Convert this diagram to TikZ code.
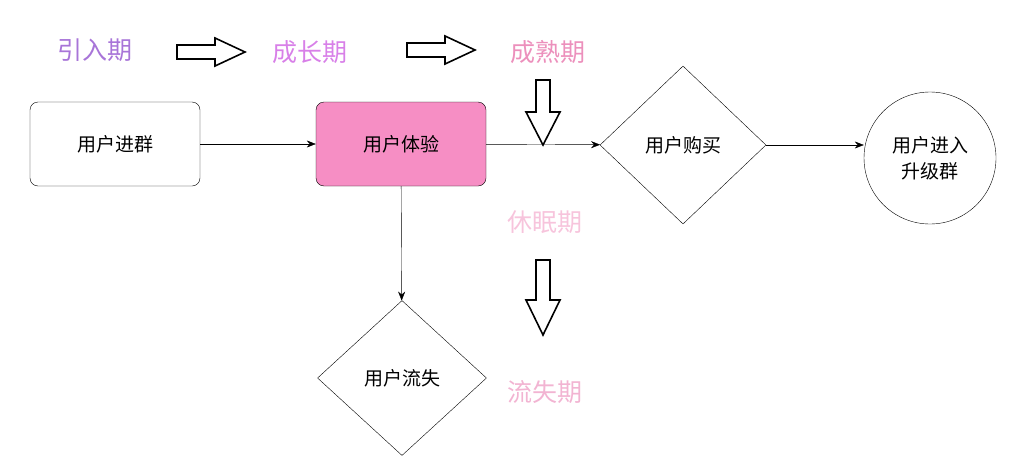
\documentclass[tikz,border=0pt]{standalone}
\usepackage{fontspec}
\setmainfont{Noto Sans CJK SC}
\usetikzlibrary{shapes.geometric,arrows.meta}
\begin{document}
\begin{tikzpicture}[x=1pt,y=-1pt,
  box/.style={draw,rounded corners=8pt,minimum width=170pt,minimum height=84pt,font=\fontsize{19}{22}\selectfont},
  dia/.style={draw,diamond,aspect=1.1,inner sep=0pt,font=\fontsize{19}{22}\selectfont},
  lab/.style={font=\fontsize{25}{28}\selectfont},
  con/.style={-{Stealth[length=9pt,width=7pt]}},
  blk/.style={draw,line width=1.6pt,fill=white}]
\useasboundingbox (0,0) rectangle (1024,474);
\definecolor{c1}{HTML}{A875D8}\definecolor{c2}{HTML}{D880E8}\definecolor{c3}{HTML}{EC90BC}
\definecolor{c4}{HTML}{F7C4DC}\definecolor{c5}{HTML}{F2B4D2}\definecolor{fillp}{HTML}{F68EC4}
\node[lab,text=c1] (l1) at (95,50) {引入期};
\node[lab,text=c2] (l2) at (310,52) {成长期};
\node[lab,text=c3] (l3) at (548,52) {成熟期};
\node[lab,text=c4] (l4) at (545,222) {休眠期};
\node[lab,text=c5] (l5) at (545,392) {流失期};
\draw[blk] (177,45)--(215,45)--(215,38)--(245,52)--(215,66)--(215,59)--(177,59)--cycle;
\draw[blk] (407,43)--(445,43)--(445,36)--(475,50)--(445,64)--(445,57)--(407,57)--cycle;
\draw[blk] (536,80)--(550,80)--(550,112)--(560,112)--(543,145)--(526,112)--(536,112)--cycle;
\draw[blk] (536,260)--(550,260)--(550,300)--(560,300)--(543,335)--(526,300)--(536,300)--cycle;
\node[box] (a) at (115,144) {用户进群};
\node[box,fill=fillp] (b) at (401,144) {用户体验};
\node[dia,minimum width=166pt,minimum height=158pt] (c) at (683,145) {用户购买};
\node[draw,circle,minimum size=132pt,align=center,font=\fontsize{19}{26}\selectfont] (d) at (930,158) {用户进入\\升级群};
\node[dia,minimum width=169pt,minimum height=155pt] (e) at (402,378) {用户流失};
\draw[con] (a) -- (b);
\draw[con] (b) -- (c);
\draw[con] (c) -- (d.west|-c);
\draw[con] (b) -- (e);
\end{tikzpicture}
\end{document}
